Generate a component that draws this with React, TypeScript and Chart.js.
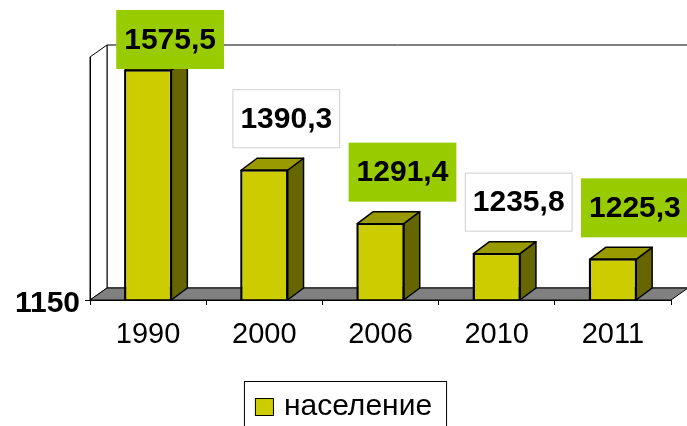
import React, { useEffect, useRef } from 'react';
import { Chart, registerables } from 'chart.js';

Chart.register(...registerables);

const categories = ['1990', '2000', '2006', '2010', '2011'];
const population = [1575.5, 1390.3, 1291.4, 1235.8, 1225.3];
const seriesLabel = 'население';
const yTicks = [1150];
const yMin = 1150;
const yMax = 1600;

const FONT = "'Liberation Sans', Arial, sans-serif";
const FRONT = '#CCCC00';
const SIDE = '#666600';
const TOP = '#999900';
const GREEN = '#99CC00';

const fmt = (v: number) => v.toFixed(1).replace('.', ',');

const poly = (ctx: CanvasRenderingContext2D, pts: number[][], fill: string) => {
  ctx.beginPath();
  ctx.moveTo(pts[0][0], pts[0][1]);
  for (let i = 1; i < pts.length; i++) ctx.lineTo(pts[i][0], pts[i][1]);
  ctx.closePath();
  ctx.fillStyle = fill;
  ctx.fill();
  ctx.stroke();
};

const threeD = {
  id: 'threeD',
  beforeDraw(chart: any) {
    const { ctx, chartArea } = chart;
    const { left, right, top, bottom } = chartArea;
    const wx = 17, wy = -12;
    ctx.save();
    ctx.lineWidth = 1;
    ctx.strokeStyle = '#000';
    ctx.fillStyle = '#fff';
    ctx.beginPath();
    ctx.rect(left + wx, top + wy, right - left, bottom - top);
    ctx.fill();
    ctx.stroke();
    poly(ctx, [[left, top], [left + wx, top + wy], [left + wx, bottom + wy], [left, bottom]], '#fff');
    poly(ctx, [[left, bottom], [left + wx, bottom + wy], [right + wx, bottom + wy], [right, bottom]], '#808080');
    ctx.restore();
  },
  afterDatasetsDraw(chart: any) {
    const { ctx } = chart;
    const bx = 16, by = -12;
    const meta = chart.getDatasetMeta(0);
    const base = chart.scales.y.getPixelForValue(yMin);
    ctx.save();
    ctx.lineWidth = 1.5;
    ctx.strokeStyle = '#000';
    ctx.lineJoin = 'round';
    meta.data.forEach((bar: any) => {
      const { x, y, width } = bar.getProps(['x', 'y', 'width'], true);
      const x1 = x - width / 2;
      const x2 = x + width / 2;
      poly(ctx, [[x2, y], [x2 + bx, y + by], [x2 + bx, base + by], [x2, base]], SIDE);
      poly(ctx, [[x1, y], [x1 + bx, y + by], [x2 + bx, y + by], [x2, y]], TOP);
      ctx.beginPath();
      ctx.rect(x1, y, width, base - y);
      ctx.stroke();
    });
    ctx.restore();
  },
  afterDraw(chart: any) {
    const { ctx } = chart;
    const meta = chart.getDatasetMeta(0);
    const ds = chart.data.datasets[0];
    ctx.save();
    // value labels
    ctx.font = `bold 30px ${FONT}`;
    ctx.textAlign = 'center';
    ctx.textBaseline = 'middle';
    meta.data.forEach((bar: any, i: number) => {
      const { x, y } = bar.getProps(['x', 'y'], true);
      const text = fmt(ds.data[i] as number);
      const w = ctx.measureText(text).width + 16;
      const h = 59;
      const cx = x + 22;
      let bTop = y - 22 - h;
      if (bTop < 10) bTop = 10;
      const green = i % 2 === 0;
      ctx.fillStyle = green ? GREEN : '#fff';
      ctx.fillRect(cx - w / 2, bTop, w, h);
      if (!green) {
        ctx.strokeStyle = '#cfcfcf';
        ctx.lineWidth = 1;
        ctx.strokeRect(cx - w / 2 + 0.5, bTop + 0.5, w - 1, h - 1);
      }
      ctx.fillStyle = '#000';
      ctx.fillText(text, cx, bTop + h / 2 + 1);
    });
    // legend
    ctx.font = `30px ${FONT}`;
    const tw = ctx.measureText(ds.label).width;
    const lw = 11 + 19 + 10 + tw + 14;
    const lx = 345 - lw / 2;
    const ly = 381;
    ctx.strokeStyle = '#000';
    ctx.lineWidth = 1;
    ctx.strokeRect(lx + 0.5, ly + 0.5, lw, 60);
    ctx.fillStyle = FRONT;
    ctx.fillRect(lx + 11, 398, 19, 18);
    ctx.strokeRect(lx + 11 + 0.5, 398 + 0.5, 18, 17);
    ctx.fillStyle = '#000';
    ctx.textAlign = 'left';
    ctx.textBaseline = 'alphabetic';
    ctx.fillText(ds.label, lx + 40, 415);
    ctx.restore();
  },
};

export default function App() {
  const ref = useRef<HTMLCanvasElement>(null);
  useEffect(() => {
    document.body.style.margin = '0';
    if (!ref.current) return;
    const chart = new Chart(ref.current, {
      type: 'bar',
      data: {
        labels: categories,
        datasets: [
          {
            label: seriesLabel,
            data: population,
            backgroundColor: FRONT,
            borderColor: '#000',
            borderWidth: 1.5,
            borderSkipped: false,
            barPercentage: 0.4,
            categoryPercentage: 1,
          },
        ],
      },
      options: {
        animation: false,
        responsive: true,
        maintainAspectRatio: false,
        layout: { padding: { top: 57, right: 16, bottom: 0, left: 0 } },
        plugins: { legend: { display: false }, tooltip: { enabled: false } },
        scales: {
          x: {
            grid: { display: true, drawOnChartArea: false, drawTicks: true, tickLength: 5, color: '#000', offset: true },
            border: { display: true, color: '#000', width: 1 },
            ticks: { color: '#000', font: { family: FONT, size: 29 }, padding: 13, maxRotation: 0, autoSkip: false },
            afterFit: (s: any) => { s.height = 126; },
          },
          y: {
            min: yMin,
            max: yMax,
            afterBuildTicks: (s: any) => { s.ticks = yTicks.map((v) => ({ value: v })); },
            grid: { drawOnChartArea: false, tickLength: 5, color: '#000' },
            border: { display: true, color: '#000', width: 1 },
            ticks: {
              color: '#000',
              font: { family: FONT, size: 30, weight: 'bold' },
              padding: 5,
              labelOffset: 4,
              callback: (v: any) => String(v),
            },
            afterFit: (s: any) => { s.width = 90; },
          },
        },
      },
      plugins: [threeD],
    });
    return () => chart.destroy();
  }, []);
  return (
    <div style={{ position: 'relative', width: 687, height: 426 }}>
      <canvas ref={ref} />
    </div>
  );
}
